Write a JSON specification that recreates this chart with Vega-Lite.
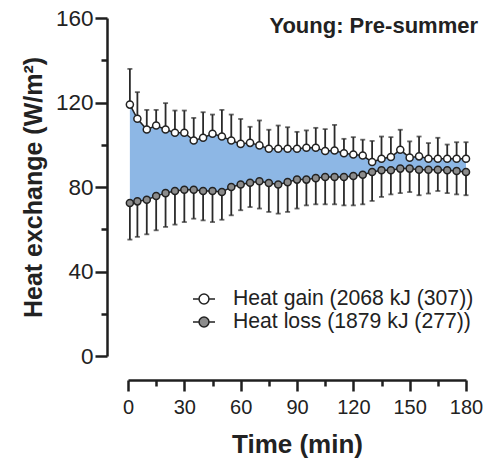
{
  "$schema": "https://vega.github.io/schema/vega-lite/v6.json",
  "width": 338,
  "height": 338,
  "autosize": "none",
  "padding": {"left": 128, "top": 18, "right": 19, "bottom": 102},
  "background": "white",
  "config": {"view": {"stroke": null}, "font": "Liberation Sans"},
  "resolve": {"axis": {"x": "independent", "y": "independent"}},
  "data": {"values": [
    {"t": 1, "gain": 119.0, "gain_hi": 135.9, "loss": 72.4, "loss_lo": 55.1},
    {"t": 5, "gain": 112.3, "gain_hi": 124.9, "loss": 73.2, "loss_lo": 56.4},
    {"t": 10, "gain": 107.2, "gain_hi": 116.5, "loss": 74.0, "loss_lo": 57.6},
    {"t": 15, "gain": 109.1, "gain_hi": 116.5, "loss": 75.7, "loss_lo": 59.5},
    {"t": 20, "gain": 107.2, "gain_hi": 119.7, "loss": 77.1, "loss_lo": 61.1},
    {"t": 25, "gain": 105.7, "gain_hi": 116.2, "loss": 78.1, "loss_lo": 62.2},
    {"t": 30, "gain": 105.7, "gain_hi": 116.2, "loss": 78.7, "loss_lo": 63.4},
    {"t": 35, "gain": 102.0, "gain_hi": 112.7, "loss": 78.7, "loss_lo": 65.0},
    {"t": 40, "gain": 103.3, "gain_hi": 115.4, "loss": 78.1, "loss_lo": 64.2},
    {"t": 45, "gain": 105.2, "gain_hi": 114.3, "loss": 78.1, "loss_lo": 63.4},
    {"t": 50, "gain": 103.9, "gain_hi": 116.5, "loss": 77.6, "loss_lo": 64.5},
    {"t": 55, "gain": 102.0, "gain_hi": 114.3, "loss": 80.0, "loss_lo": 66.6},
    {"t": 60, "gain": 100.4, "gain_hi": 112.2, "loss": 81.2, "loss_lo": 69.0},
    {"t": 65, "gain": 100.9, "gain_hi": 108.5, "loss": 82.0, "loss_lo": 70.5},
    {"t": 70, "gain": 99.7, "gain_hi": 111.5, "loss": 82.7, "loss_lo": 69.8},
    {"t": 75, "gain": 98.1, "gain_hi": 107.1, "loss": 81.9, "loss_lo": 68.2},
    {"t": 80, "gain": 98.1, "gain_hi": 109.1, "loss": 81.2, "loss_lo": 67.4},
    {"t": 85, "gain": 98.1, "gain_hi": 108.3, "loss": 82.3, "loss_lo": 68.2},
    {"t": 90, "gain": 98.1, "gain_hi": 106.1, "loss": 83.5, "loss_lo": 69.8},
    {"t": 95, "gain": 98.6, "gain_hi": 106.8, "loss": 83.5, "loss_lo": 71.3},
    {"t": 100, "gain": 98.6, "gain_hi": 108.0, "loss": 84.2, "loss_lo": 71.8},
    {"t": 105, "gain": 97.0, "gain_hi": 107.4, "loss": 84.7, "loss_lo": 71.8},
    {"t": 110, "gain": 97.3, "gain_hi": 109.4, "loss": 84.7, "loss_lo": 71.8},
    {"t": 115, "gain": 96.0, "gain_hi": 102.8, "loss": 84.7, "loss_lo": 71.3},
    {"t": 120, "gain": 95.4, "gain_hi": 103.6, "loss": 85.2, "loss_lo": 71.3},
    {"t": 125, "gain": 94.9, "gain_hi": 102.4, "loss": 85.8, "loss_lo": 71.8},
    {"t": 130, "gain": 91.8, "gain_hi": 101.8, "loss": 87.1, "loss_lo": 73.4},
    {"t": 135, "gain": 93.4, "gain_hi": 103.9, "loss": 87.9, "loss_lo": 75.3},
    {"t": 140, "gain": 94.2, "gain_hi": 103.6, "loss": 87.9, "loss_lo": 76.5},
    {"t": 145, "gain": 97.6, "gain_hi": 107.1, "loss": 88.7, "loss_lo": 77.1},
    {"t": 150, "gain": 93.9, "gain_hi": 101.6, "loss": 88.7, "loss_lo": 77.6},
    {"t": 155, "gain": 94.5, "gain_hi": 103.9, "loss": 88.2, "loss_lo": 76.1},
    {"t": 160, "gain": 93.4, "gain_hi": 100.8, "loss": 88.2, "loss_lo": 76.9},
    {"t": 165, "gain": 93.4, "gain_hi": 103.3, "loss": 88.2, "loss_lo": 78.1},
    {"t": 170, "gain": 93.4, "gain_hi": 100.1, "loss": 87.9, "loss_lo": 77.1},
    {"t": 175, "gain": 93.4, "gain_hi": 101.2, "loss": 87.6, "loss_lo": 76.5},
    {"t": 180, "gain": 93.4, "gain_hi": 101.2, "loss": 87.1, "loss_lo": 76.1}
  ]},
  "layer": [
    {
      "mark": {"type": "area", "color": "#8db7e5", "opacity": 1},
      "encoding": {
        "x": {"field": "t", "type": "quantitative", "scale": {"domain": [0, 180], "nice": false, "zero": false},
          "axis": {"orient": "bottom", "values": [0, 30, 60, 90, 120, 150, 180], "labelOverlap": false, "labelFlush": false,
            "tickSize": 11, "offset": 24, "grid": false, "domainColor": "#1f1f1f", "domainWidth": 2.5, "tickColor": "#1f1f1f", "tickWidth": 2.5,
            "labelFontSize": 20, "labelColor": "#222", "labelPadding": 6, "labelFont": "Liberation Sans",
            "title": "Time (min)", "titleFontSize": 26, "titleFontWeight": "bold", "titleColor": "#222", "titlePadding": 14, "titleFont": "Liberation Sans"}},
        "y": {"field": "loss", "type": "quantitative", "scale": {"domain": [0, 160], "nice": false},
          "axis": {"orient": "left", "values": [0, 40, 80, 120, 160], "labelOverlap": false, "labelFlush": false,
            "tickSize": 12, "offset": 21, "grid": false, "domainColor": "#1f1f1f", "domainWidth": 2.5, "tickColor": "#1f1f1f", "tickWidth": 2.5,
            "labelFontSize": 22.5, "labelColor": "#222", "labelPadding": 2, "labelFont": "Liberation Sans",
            "title": "Heat exchange (W/m²)", "titleFontSize": 25, "titleFontWeight": "bold", "titleColor": "#222", "titlePadding": 9, "titleFont": "Liberation Sans"}},
        "y2": {"field": "gain"}
      }
    },
    {
      "mark": {"type": "rule", "color": "#2a2a2a", "strokeWidth": 1.8},
      "encoding": {
        "x": {"field": "t", "type": "quantitative",
          "axis": {"orient": "bottom", "values": [15, 45, 75, 105, 135, 165], "labels": false, "domain": false, "title": null, "grid": false,
            "tickSize": 6, "offset": 24, "tickColor": "#1f1f1f", "tickWidth": 2.5}},
        "y": {"field": "gain", "type": "quantitative",
          "axis": {"orient": "left", "values": [20, 60, 100, 140], "labels": false, "domain": false, "title": null, "grid": false,
            "tickSize": 6, "offset": 21, "tickColor": "#1f1f1f", "tickWidth": 2.5}},
        "y2": {"field": "gain_hi"}
      }
    },
    {
      "mark": {"type": "tick", "orient": "horizontal", "color": "#2a2a2a", "size": 5, "thickness": 1.8},
      "encoding": {
        "x": {"field": "t", "type": "quantitative", "axis": null},
        "y": {"field": "gain_hi", "type": "quantitative", "axis": null}
      }
    },
    {
      "mark": {"type": "rule", "color": "#2a2a2a", "strokeWidth": 1.8},
      "encoding": {
        "x": {"field": "t", "type": "quantitative", "axis": null},
        "y": {"field": "loss_lo", "type": "quantitative", "axis": null},
        "y2": {"field": "loss"}
      }
    },
    {
      "mark": {"type": "tick", "orient": "horizontal", "color": "#2a2a2a", "size": 5, "thickness": 1.8},
      "encoding": {
        "x": {"field": "t", "type": "quantitative", "axis": null},
        "y": {"field": "loss_lo", "type": "quantitative", "axis": null}
      }
    },
    {
      "mark": {"type": "line", "color": "#222", "strokeWidth": 1.5},
      "encoding": {
        "x": {"field": "t", "type": "quantitative", "axis": null},
        "y": {"field": "gain", "type": "quantitative", "axis": null}
      }
    },
    {
      "mark": {"type": "line", "color": "#222", "strokeWidth": 1.5},
      "encoding": {
        "x": {"field": "t", "type": "quantitative", "axis": null},
        "y": {"field": "loss", "type": "quantitative", "axis": null}
      }
    },
    {
      "mark": {"type": "point", "shape": "circle", "size": 50, "stroke": "#222", "strokeWidth": 1.5, "opacity": 1, "fillOpacity": 1},
      "encoding": {
        "x": {"field": "t", "type": "quantitative", "axis": null},
        "y": {"field": "gain", "type": "quantitative", "axis": null},
        "fill": {"datum": "Heat gain (2068 kJ (307))", "type": "nominal",
          "scale": {"domain": ["Heat gain (2068 kJ (307))", "Heat loss (1879 kJ (277))"], "range": ["#ffffff", "#8c8c8c"]},
          "legend": {"orient": "none", "legendX": 64, "legendY": 269, "title": null, "padding": 0,
            "symbolType": "M-1,0H-0.45M0.45,0H1M-0.45,0A0.45,0.45,0,1,0,0.45,0A0.45,0.45,0,1,0,-0.45,0Z",
            "symbolSize": 484, "symbolStrokeColor": "#222", "symbolStrokeWidth": 1.5, "symbolOpacity": 1,
            "labelFontSize": 21.2, "labelFont": "Liberation Sans", "labelColor": "#222", "labelOffset": 17, "rowPadding": 0, "labelLimit": 400}}
      }
    },
    {
      "mark": {"type": "point", "shape": "circle", "size": 50, "stroke": "#222", "strokeWidth": 1.5, "opacity": 1, "fillOpacity": 1},
      "encoding": {
        "x": {"field": "t", "type": "quantitative", "axis": null},
        "y": {"field": "loss", "type": "quantitative", "axis": null},
        "fill": {"datum": "Heat loss (1879 kJ (277))", "type": "nominal"}
      }
    },
    {
      "data": {"values": [{"label": "Young: Pre-summer"}]},
      "mark": {"type": "text", "align": "right", "baseline": "alphabetic", "dx": 12, "dy": 15, "fontSize": 22, "fontWeight": "bold", "font": "Liberation Sans", "color": "#222"},
      "encoding": {
        "x": {"datum": 180, "type": "quantitative", "axis": null},
        "y": {"datum": 160, "type": "quantitative", "axis": null},
        "text": {"field": "label", "type": "nominal"}
      }
    }
  ]
}
